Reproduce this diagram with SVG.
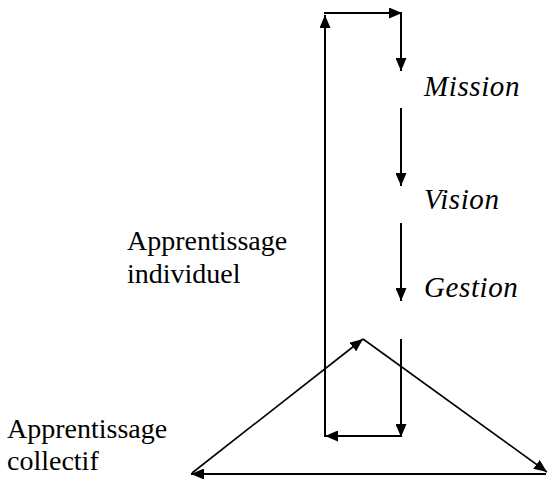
<svg xmlns="http://www.w3.org/2000/svg" width="547" height="479" viewBox="0 0 547 479">
<style>
.ln{stroke:#000;stroke-width:2;fill:none;marker-end:url(#ah)}
.tri{stroke:#000;stroke-width:1.6;fill:none;marker-end:url(#ah)}
.lab{font-family:"Liberation Serif","Times New Roman",serif;font-size:28px;fill:#000}
.it{font-style:italic;font-size:29px;letter-spacing:0.6px}
</style>
<defs>
<marker id="ah" markerUnits="userSpaceOnUse" viewBox="0 0 13 11" refX="13" refY="5.5" markerWidth="13" markerHeight="11" orient="auto">
<path d="M0,0 L13,5.5 L0,11 Z" fill="#000"/>
</marker>
</defs>
<rect width="547" height="479" fill="#fff"/>
<g id="connectors">
<line class="ln" x1="325" y1="437" x2="325" y2="15"/>
<line class="ln" x1="324" y1="13" x2="402" y2="13"/>
<line class="ln" x1="401" y1="12" x2="401" y2="71"/>
<line class="ln" x1="401" y1="108" x2="401" y2="186"/>
<line class="ln" x1="401" y1="223" x2="401" y2="301"/>
<line class="ln" x1="401" y1="339" x2="401" y2="437"/>
<line class="ln" x1="402" y1="436" x2="325" y2="436"/>
<line class="tri" x1="192" y1="473" x2="363" y2="339"/>
<line class="tri" x1="363" y1="339" x2="547" y2="472"/>
<line class="ln" x1="546" y1="474" x2="191" y2="474"/>
</g>
<g id="mission"><text class="lab it" x="424" y="96">Mission</text></g>
<g id="vision"><text class="lab it" x="424" y="209">Vision</text></g>
<g id="gestion"><text class="lab it" x="424" y="297">Gestion</text></g>
<g id="apprentissage-individuel"><text class="lab" x="127" y="250">Apprentissage</text><text class="lab" x="127" y="283">individuel</text></g>
<g id="apprentissage-collectif"><text class="lab" x="7" y="438">Apprentissage</text><text class="lab" x="7" y="470">collectif</text></g>
</svg>
